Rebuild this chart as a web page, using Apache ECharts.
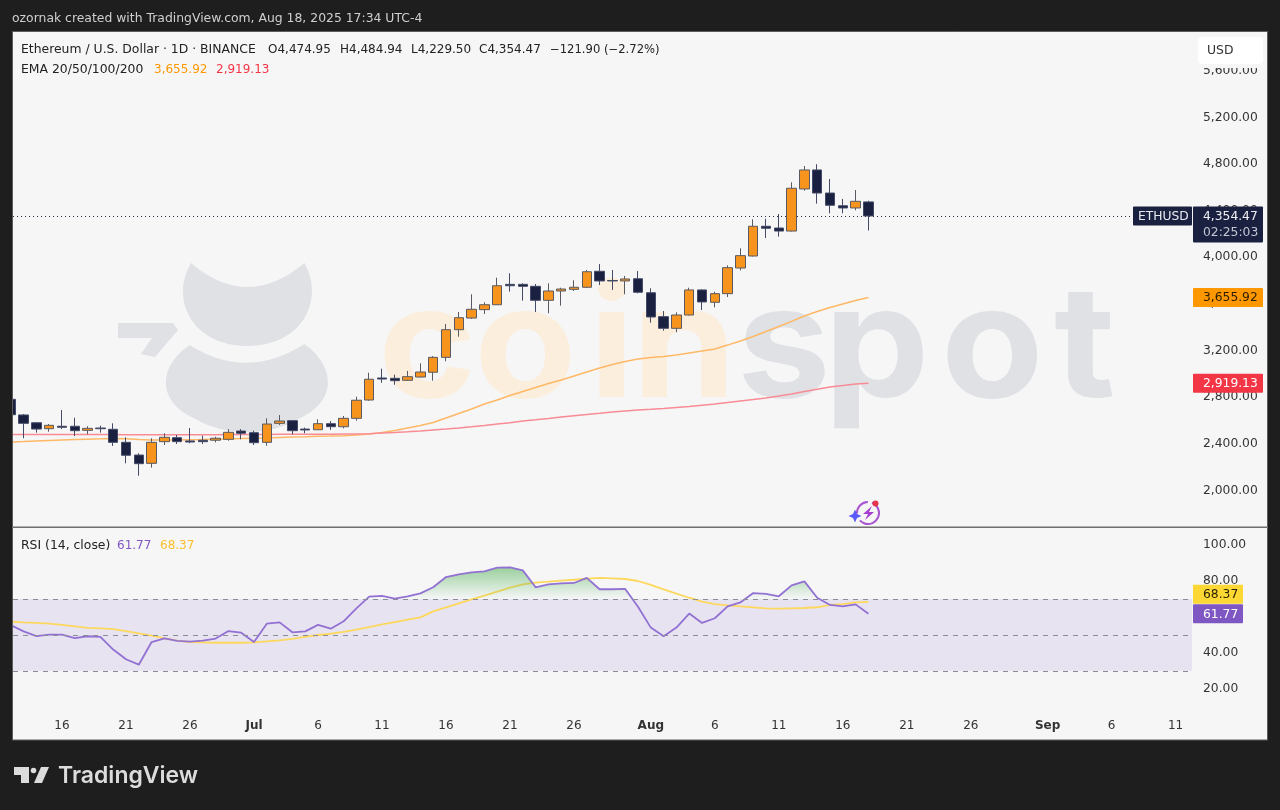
<!DOCTYPE html>
<html>
<head>
<meta charset="utf-8">
<title>ETHUSD</title>
<style>
  html, body { margin: 0; padding: 0; background: #1e1e1e; }
  #main { width: 1280px; height: 810px; }
</style>
<script src="https://cdn.jsdelivr.net/npm/echarts@6/dist/echarts.min.js"></script>
</head>
<body>
<div id="main"></div>
<script>
// daily candles from Jun 12 2025: [open, close, low, high]
const candles = [
  [2782,2650,2639,2802],[2648,2576,2448,2656],[2581,2527,2496,2585],[2530,2559,2504,2570],
  [2551,2542,2527,2690],[2551,2513,2467,2624],[2516,2533,2482,2551],[2536,2530,2496,2556],
  [2525,2413,2382,2576],[2413,2302,2233,2456],[2304,2230,2127,2319],[2233,2413,2196,2448],
  [2419,2456,2390,2491],[2453,2419,2399,2476],[2425,2416,2405,2536],[2431,2419,2399,2470],
  [2431,2448,2413,2461],[2439,2499,2427,2527],[2510,2491,2439,2527],[2496,2410,2390,2513],
  [2413,2570,2384,2619],[2576,2596,2562,2647],[2599,2513,2482,2603],[2527,2519,2491,2539],
  [2521,2573,2519,2611],[2573,2547,2519,2596],[2547,2619,2533,2639],[2619,2774,2599,2804],
  [2776,2954,2770,3010],[2965,2956,2924,3045],[2962,2942,2907,2993],[2945,2976,2939,3025],
  [2973,3016,2969,3091],[3014,3142,2942,3153],[3142,3379,3108,3428],[3379,3482,3319,3531],
  [3479,3554,3471,3683],[3551,3593,3514,3614],[3593,3756,3591,3825],[3768,3756,3705,3863],
  [3768,3751,3628,3777],[3751,3631,3531,3771],[3631,3711,3520,3777],[3711,3728,3585,3739],
  [3725,3743,3711,3803],[3743,3876,3737,3891],[3880,3797,3762,3942],[3801,3797,3720,3891],
  [3797,3814,3683,3840],[3816,3700,3691,3882],[3696,3488,3439,3734],[3491,3391,3370,3539],
  [3391,3505,3357,3528],[3505,3720,3501,3739],[3720,3617,3548,3724],[3614,3688,3571,3705],
  [3688,3911,3659,3931],[3908,4014,3888,4077],[4011,4266,4007,4326],[4266,4249,4165,4331],
  [4251,4225,4177,4371],[4225,4592,4221,4643],[4586,4749,4571,4783],[4749,4551,4460,4798],
  [4551,4446,4377,4671],[4442,4423,4377,4500],[4423,4480,4403,4577],[4474.95,4354.47,4229.5,4484.94]
];
const ema50 = [
  2416,2420,2425,2429,2433,2437,2440,2443,2447,2443,2437,2433,2433,2433,2435,2437,2440,
  2442,2445,2448,2450,2455,2459,2462,2466,2467,2470,2476,2485,2497,2515,2536,2557,2583,
  2622,2660,2699,2742,2776,2815,2849,2883,2918,2948,2982,3016,3050,3080,3106,3128,3141,
  3149,3162,3179,3196,3214,3247,3282,3321,3364,3406,3450,3496,3535,3569,3599,3629,3655.92
];
const ema200 = [
  2480,2480,2481,2481,2481,2481,2481,2481,2480,2479,2478,2478,2478,2478,2478,2479,2479,
  2480,2480,2481,2481,2482,2482,2482,2483,2483,2484,2485,2487,2493,2497,2503,2510,2519,
  2527,2536,2546,2557,2570,2581,2596,2606,2617,2630,2641,2652,2662,2673,2682,2690,2696,
  2703,2712,2720,2731,2742,2755,2768,2780,2793,2810,2828,2849,2868,2888,2900,2913,2919.13
];
const rsi = [
  55.4,52.0,49.4,50.2,50.2,48.3,49.3,48.9,41.9,36.5,33.5,46.1,48.1,46.7,46.3,46.9,48.0,
  52.2,51.3,46.1,56.3,57.0,51.5,52.0,55.6,53.5,57.6,64.8,71.3,71.7,70.2,71.5,73.1,76.5,
  82.2,83.7,84.8,85.4,87.4,87.6,85.9,76.5,78.1,78.7,78.9,81.7,75.4,75.4,75.6,65.7,54.1,
  49.3,54.1,61.9,56.7,59.3,65.9,68.1,73.3,72.8,71.5,77.6,79.8,70.7,66.7,65.9,67.0,61.77
];
const rsiMa = [
  57.4,57.0,56.7,56.3,55.6,54.8,53.9,53.7,53.3,52.2,50.9,49.6,48.1,46.9,46.1,45.9,45.7,
  45.7,45.7,45.9,46.5,47.0,47.8,48.9,50.0,50.7,51.7,53.0,54.4,55.9,57.2,58.5,59.8,63.1,
  65.4,67.6,69.8,71.9,74.1,76.3,78.1,79.1,79.6,80.2,80.7,81.3,81.7,81.5,81.1,80.0,77.8,
  75.4,73.0,70.7,68.5,67.2,66.5,65.9,65.4,64.8,64.6,64.8,65.0,65.4,66.7,67.2,68.1,68.37
];
// day offsets from Jun 12 and the label shown there
const dateTicks = [4,9,14,19,24,29,34,39,44,50,55,60,65,70,75,81,86,91];
const dateLabels = ['16','21','26','Jul','6','11','16','21','26','Aug','6','11','16','21','26','Sep','6','11'];
const priceTicks = [2000,2400,2800,3200,3600,4000,4400,4800,5200,5600];
const rsiTicks = [20,40,60,80,100];
const rsiLevels = [70,50,30];

const uiFont = '"DejaVu Sans", sans-serif';
const orange = '#f7941d';
const navy = '#1a2040';
const panel = '#f6f6f7';

const withIndex = arr => arr.map((v, i) => [i, v]);
const fmt = v => v.toLocaleString('en-US', {minimumFractionDigits: 2, maximumFractionDigits: 2});

// last value flags on the right hand scale
function tagSeries(axisIndex, tags) {
  return {
    type: 'custom',
    xAxisIndex: axisIndex,
    yAxisIndex: axisIndex,
    z: 10,
    silent: true,
    encode: {x: 0, y: 1},
    data: tags.map(t => [67, t.value]),
    renderItem: function (params, api) {
      const t = tags[params.dataIndex];
      const cy = api.coord([67, api.value(1)])[1] + (t.dy || 0);
      const h = t.sub ? 36 : 19;
      const kids = [
        {type: 'rect', shape: {x: t.x, y: cy - 9.5, width: t.w, height: h, r: 1}, style: {fill: t.bg}},
        {type: 'text', style: {x: t.x + t.pad, y: cy + 0.5, text: t.text, fill: t.fg, font: '12.3px ' + uiFont, verticalAlign: 'middle'}}
      ];
      if (t.sub) {
        kids.push({type: 'text', style: {x: t.x + t.pad, y: cy + 16.5, text: t.sub, fill: '#c4c7d2', font: '12.3px ' + uiFont, verticalAlign: 'middle'}});
      }
      return {type: 'group', children: kids};
    }
  };
}

const priceTags = [
  {value: 4354.47, text: 'ETHUSD', x: 1133, w: 59, pad: 5, bg: navy, fg: '#e8e8ee'},
  {value: 4354.47, text: fmt(4354.47), sub: '02:25:03', x: 1193, w: 70, pad: 10, bg: navy, fg: '#f0f0f4'},
  {value: 3655.92, text: fmt(3655.92), x: 1193, w: 70, pad: 10, bg: '#ff9800', fg: '#2a1c00'},
  {value: 2919.13, text: fmt(2919.13), x: 1193, w: 70, pad: 10, bg: '#f23645', fg: '#ffffff'}
];
const rsiTags = [
  {value: 68.37, dy: -7.6, text: '68.37', x: 1193, w: 50, pad: 10, bg: '#fdd835', fg: '#2a2400'},
  {value: 61.77, text: '61.77', x: 1193, w: 50, pad: 10, bg: '#7e57c2', fg: '#ffffff'}
];

// page furniture and texts
function txt(x, y, text, fill, size) {
  return {
    type: 'text', x: x, y: y, z: 100, silent: true,
    style: {text: text, fill: fill, font: (size || 12.4) + 'px ' + uiFont, verticalAlign: 'middle'}
  };
}

const wmLetters = [['c',378,'#fbeedd'],['o',474,'#fbeedd'],['i',589,'#fbeedd'],['n',632,'#fbeedd'],
                   ['s',737,'#dfe1e5'],['p',824,'#dfe1e5'],['o',941,'#dfe1e5'],['t',1054,'#dfe1e5']];

// logo behind the candles
const watermark = {
  type: 'custom', coordinateSystem: 'none', z: 0, silent: true, data: [0],
  renderItem: function () {
    const kids = [
      {type: 'path', shape: {pathData: 'M193,263 Q247,311 302,263 C322,300 300,346 247,346 C195,346 172,300 193,263 Z', layout: 'cover', x: 183, y: 263, width: 129, height: 83}, style: {fill: '#dfe1e5'}},
      {type: 'path', shape: {pathData: 'M190,345 Q247,381 305,344 C335,365 340,400 300,418 C270,436 225,436 195,418 C155,400 160,365 190,345 Z', layout: 'cover', x: 166, y: 344, width: 162, height: 88}, style: {fill: '#dfe1e5'}},
      {type: 'polygon', shape: {points: [[118,323],[173,323],[178,330],[155,357],[141,354],[152,338],[118,338]]}, style: {fill: '#dfe1e5'}}
    ];
    wmLetters.forEach(l => {
      kids.push({type: 'text', x: l[1], y: 350, scaleX: 1.08, style: {text: l[0], fill: l[2], font: '700 155px Inter, sans-serif', verticalAlign: 'middle'}});
    });
    return {type: 'group', children: kids};
  }
};

const graphics = [
  {type: 'rect', z: -20, shape: {x: 12.5, y: 31.5, width: 1255, height: 708.5}, style: {fill: panel, stroke: '#5c5c5c', lineWidth: 1}},
  // first candle is cut by the panel edge
  {type: 'rect', z: 50, shape: {x: 0, y: 32, width: 12, height: 708}, style: {fill: '#1e1e1e'}},
  {type: 'rect', z: 50, shape: {x: 12, y: 32, width: 1, height: 708}, style: {fill: '#5c5c5c'}},
  {type: 'rect', z: 99, shape: {x: 1196, y: 33, width: 70, height: 35}, style: {fill: panel}},
  {type: 'rect', z: 100, shape: {x: 1198, y: 37, width: 65, height: 27, r: 4}, style: {fill: '#ffffff'}},
  txt(1207, 51, 'USD', '#333333'),
  txt(12, 19, 'ozornak created with TradingView.com, Aug 18, 2025 17:34 UTC-4', '#cfcfcf'),
  txt(21, 50, 'Ethereum / U.S. Dollar · 1D · BINANCE', '#222222'),
  txt(268, 50, 'O4,474.95', '#222222', 12),
  txt(340, 50, 'H4,484.94', '#222222', 12),
  txt(411, 50, 'L4,229.50', '#222222', 12),
  txt(479, 50, 'C4,354.47', '#222222', 12),
  txt(550, 50, '−121.90 (−2.72%)', '#222222', 11.6),
  txt(21, 70, 'EMA 20/50/100/200', '#222222'),
  txt(154, 70, '3,655.92', '#ff9800', 12),
  txt(216, 70, '2,919.13', '#f23645', 12),
  txt(21, 546, 'RSI (14, close)', '#222222'),
  txt(117, 546, '61.77', '#7e57c2', 12),
  txt(160, 546, '68.37', '#fbc02d', 12),
  {type: 'rect', z: 100, shape: {x: 12, y: 526.5, width: 1256, height: 1.5}, style: {fill: '#6f6f6f'}},
  // small flash icon
  {type: 'arc', z: 100, shape: {cx: 868, cy: 513, r: 11, startAngle: -1.2, endAngle: 2.4, clockwise: true}, style: {fill: 'none', stroke: '#a855d0', lineWidth: 2}},
  {type: 'arc', z: 100, shape: {cx: 868, cy: 513, r: 11, startAngle: 3.1, endAngle: 4.7, clockwise: true}, style: {fill: 'none', stroke: '#a855d0', lineWidth: 2}},
  {type: 'circle', z: 100, shape: {cx: 875.5, cy: 503.5, r: 3}, style: {fill: '#e8344a'}},
  {type: 'polygon', z: 100, shape: {points: [[872,506],[863,514],[868,514],[865,520],[874,512],[869,512]]}, style: {fill: '#a63fd0'}},
  {type: 'polygon', z: 100, shape: {points: [[855,509.5],[857,514],[861.5,516],[857,518],[855,522.5],[853,518],[848.5,516],[853,514]]}, style: {fill: '#5b5cf6'}},
  // TradingView mark
  {type: 'polygon', z: 100, shape: {points: [[14,767],[29,767],[29,783],[21,783],[21,775],[14,775]]}, style: {fill: '#dcdcdc'}},
  {type: 'circle', z: 100, shape: {cx: 33.5, cy: 770.5, r: 2.8}, style: {fill: '#dcdcdc'}},
  {type: 'polygon', z: 100, shape: {points: [[41,767],[49,767],[42,783],[34,783]]}, style: {fill: '#dcdcdc'}},
  {type: 'text', x: 58, y: 776, z: 100, style: {text: 'TradingView', fill: '#dcdcdc', font: '600 23px Inter, sans-serif', verticalAlign: 'middle'}}
];

const chart = echarts.init(document.getElementById('main'), null, {renderer: 'canvas'});

chart.setOption({
  animation: false,
  backgroundColor: '#1e1e1e',
  graphic: {elements: graphics},
  grid: [
    {left: 13, right: 88, top: 32, height: 495},
    {left: 13, right: 88, top: 528, height: 182}
  ],
  xAxis: [
    {gridIndex: 0, type: 'value', min: 0.172, max: 92.28, show: false, splitLine: {show: false}},
    {
      gridIndex: 1, type: 'value', min: 0.172, max: 92.28,
      axisLine: {show: false}, axisTick: {show: false}, splitLine: {show: false},
      axisLabel: {
        customValues: dateTicks, margin: 10, color: '#333333', fontFamily: 'DejaVu Sans', fontSize: 12,
        hideOverlap: false,
        formatter: function (v) {
          const s = dateLabels[dateTicks.indexOf(v)];
          return /[A-Z]/.test(s) ? '{b|' + s + '}' : s;
        },
        rich: {b: {fontWeight: 'bold', color: '#333333', fontFamily: 'DejaVu Sans', fontSize: 12}}
      }
    }
  ],
  yAxis: [
    {
      gridIndex: 0, type: 'value', position: 'right', min: 1687, max: 5932,
      axisLine: {show: false}, axisTick: {show: false}, splitLine: {show: false},
      axisLabel: {
        customValues: priceTicks, margin: 11, color: '#333333', fontFamily: 'DejaVu Sans', fontSize: 12.3,
        padding: [0, 0, 4, 0], formatter: fmt, showMinLabel: true, showMaxLabel: true
      }
    },
    {
      gridIndex: 1, type: 'value', position: 'right', min: 8.33, max: 109.44,
      axisLine: {show: false}, axisTick: {show: false}, splitLine: {show: false},
      axisLabel: {
        customValues: rsiTicks, margin: 11, color: '#333333', fontFamily: 'DejaVu Sans', fontSize: 12.3,
        padding: [4, 0, 0, 0], formatter: fmt
      }
    }
  ],
  series: [
    watermark,
    {
      type: 'candlestick', xAxisIndex: 0, yAxisIndex: 0, barWidth: 10, z: 3, clip: true,
      data: candles.map((c, i) => [i].concat(c)),
      itemStyle: {color: orange, color0: navy, borderColor: '#5a5a62', borderColor0: '#454a66', borderWidth: 1},
      markLine: {
        silent: true, symbol: 'none', z: 1, label: {show: false},
        lineStyle: {color: '#2a2e45', type: [1, 3], width: 1},
        data: [{yAxis: 4354.47}]
      }
    },
    {type: 'line', xAxisIndex: 0, yAxisIndex: 0, z: 2, data: withIndex(ema50), showSymbol: false, silent: true, lineStyle: {color: '#ffb866', width: 1.5}},
    {type: 'line', xAxisIndex: 0, yAxisIndex: 0, z: 2, data: withIndex(ema200), showSymbol: false, silent: true, lineStyle: {color: '#f98b95', width: 1.5}},
    {
      type: 'line', xAxisIndex: 1, yAxisIndex: 1, z: 3, data: withIndex(rsi), showSymbol: false, silent: true,
      lineStyle: {color: '#9271d3', width: 1.8},
      areaStyle: {
        origin: 70, opacity: 1,
        color: {type: 'linear', global: true, x: 0, y: 567, x2: 0, y2: 599,
          colorStops: [{offset: 0, color: 'rgba(76,175,80,0.55)'}, {offset: 1, color: 'rgba(76,175,80,0)'}]}
      },
      markArea: {silent: true, itemStyle: {color: 'rgba(126,87,194,0.12)'}, data: [[{yAxis: 30}, {yAxis: 70}]]},
      markLine: {
        silent: true, symbol: 'none', label: {show: false},
        lineStyle: {color: '#8b8d96', type: [5, 5], width: 1},
        data: rsiLevels.map(v => ({yAxis: v}))
      }
    },
    {type: 'line', xAxisIndex: 1, yAxisIndex: 1, z: 2, data: withIndex(rsiMa), showSymbol: false, silent: true, lineStyle: {color: '#fdd85d', width: 1.8}},
    tagSeries(0, priceTags),
    tagSeries(1, rsiTags)
  ]
});
</script>
</body>
</html>
